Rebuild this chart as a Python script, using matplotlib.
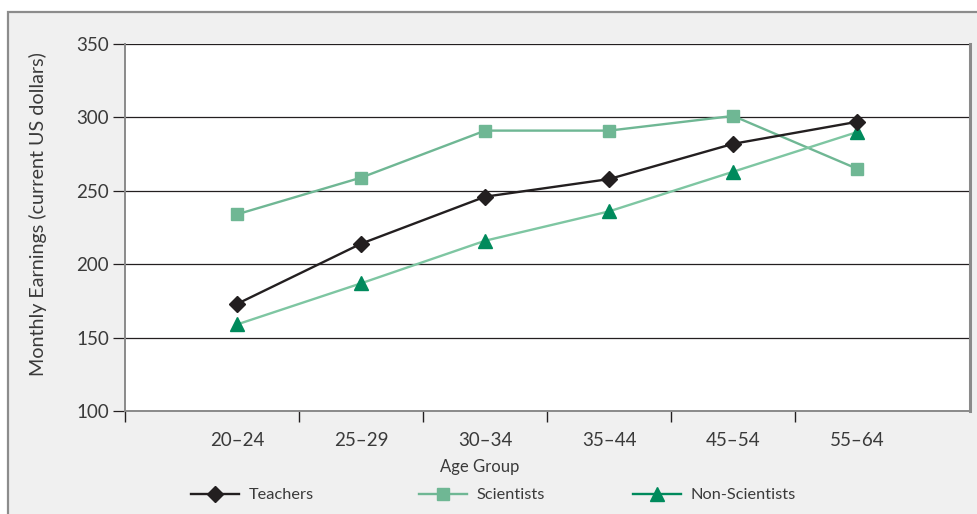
import matplotlib
matplotlib.use("Agg")
import matplotlib.pyplot as plt
from matplotlib.lines import Line2D
from matplotlib.patches import Rectangle

age_groups = ["20–24", "25–29", "30–34", "35–44", "45–54", "55–64"]
teachers = [173, 214, 246, 258, 282, 297]
scientists = [234, 259, 291, 291, 301, 265]
non_scientists = [159, 187, 216, 236, 263, 290]
y_ticks = [100, 150, 200, 250, 300, 350]

plt.rcParams['font.family'] = ['Lato', 'DejaVu Sans']
TXT = '#3a3a3a'
BLACK = '#231f20'
SCI = '#6fb794'
NONSCI_M = '#008a5c'
NONSCI_L = '#7ec6a2'
W, H = 977, 514

fig = plt.figure(figsize=(W / 100, H / 100), dpi=100)
fig.patch.set_facecolor('white')
# light grey panel with border
fig.patches.append(Rectangle((8 / W, -0.1), 1.1, (H - 12) / H + 0.1,
                             transform=fig.transFigure, facecolor='#f0f0f0',
                             edgecolor='#8c8c8c', linewidth=1.6, zorder=-10))

ax = fig.add_axes([125 / W, (H - 411) / H, (970 - 125) / W, (411 - 44) / H])
ax.set_facecolor('white')
x = list(range(len(age_groups)))

ax.plot(x, teachers, color=BLACK, lw=1.7, marker='D', ms=7.8,
        mfc=BLACK, mec=BLACK, zorder=4)
ax.plot(x, scientists, color=SCI, lw=1.7, marker='s', ms=8.5,
        mfc=SCI, mec=SCI, zorder=3)
ax.plot(x, non_scientists, color=NONSCI_L, lw=1.7, zorder=3)
ax.plot(x, non_scientists, color=NONSCI_M, lw=0, marker='^', ms=10.5,
        mfc=NONSCI_M, mec=NONSCI_M, zorder=3)

ax.set_xlim(-0.905, 5.91)
ax.set_ylim(100, 350)
ax.set_yticks(y_ticks)
ax.set_yticklabels([str(v) for v in y_ticks], fontsize=13.5, color=TXT)
ax.yaxis.grid(True, color=BLACK, lw=0.9)
ax.set_axisbelow(True)

ax.set_xticks([i + 0.5 for i in range(5)] + [-0.905])
ax.set_xticklabels([])
ax.set_xticks(x, minor=True)
ax.set_xticklabels(age_groups, minor=True, fontsize=13.5, color=TXT)
ax.tick_params(axis='x', which='minor', length=0, pad=15)
ax.tick_params(axis='x', which='major', length=8, width=1.0, color=BLACK, direction='out')
ax.tick_params(axis='y', length=8.5, width=0.9, color=BLACK, pad=3)

for s in ['left', 'bottom', 'right']:
    ax.spines[s].set_color('#8a8a8a')
    ax.spines[s].set_linewidth(1.4)
ax.spines['right'].set_linewidth(2.2)
ax.spines['top'].set_visible(False)

fig.text(480 / W, 1 - 467 / H, "Age Group", ha='center', va='center',
         fontsize=12, color=TXT)
fig.text(38 / W, 1 - 214 / H, "Monthly Earnings (current US dollars)",
         rotation=90, ha='center', va='center', fontsize=14.2, color=TXT)

handles = [
    (Line2D([], [], color=BLACK, lw=1.7, marker='D', ms=7.8, mfc=BLACK, mec=BLACK), "Teachers", 191),
    (Line2D([], [], color=SCI, lw=1.7, marker='s', ms=8.5, mfc=SCI, mec=SCI), "Scientists", 419),
    (Line2D([], [], color=NONSCI_M, lw=1.7, marker='^', ms=10.5, mfc=NONSCI_M, mec=NONSCI_M), "Non-Scientists", 633),
]
for h, lab, xs in handles:
    leg = fig.legend([h], [lab], loc='center left', bbox_to_anchor=(xs / W, 1 - 495 / H),
                     frameon=False, fontsize=11.8, handlelength=2.9, handletextpad=0.6,
                     borderpad=0, borderaxespad=0)
    for t in leg.get_texts():
        t.set_color(TXT)

fig.savefig("out.png", dpi=100, facecolor=fig.get_facecolor())
